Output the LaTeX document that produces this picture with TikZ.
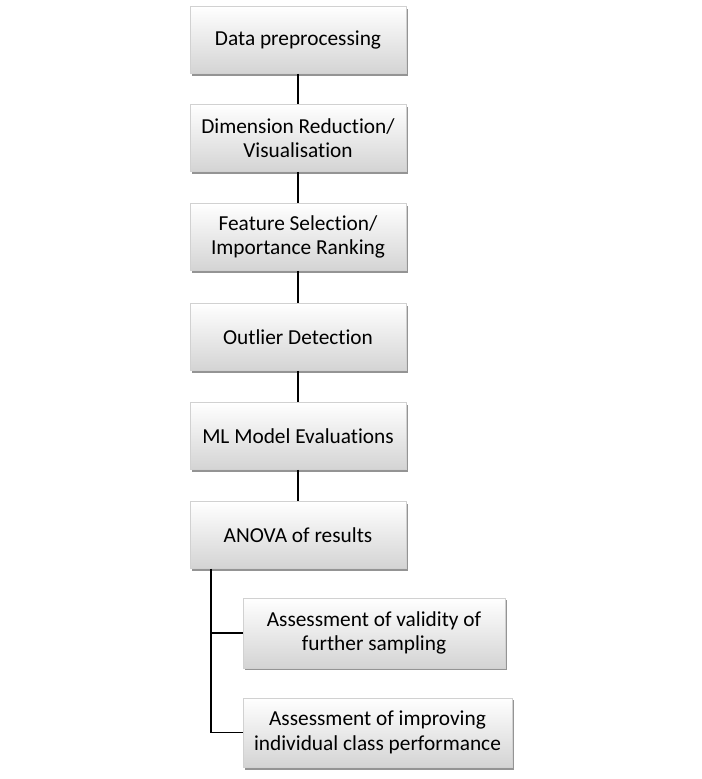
\documentclass[tikz,border=0pt]{standalone}
\usepackage{fontspec}
\setmainfont{Carlito}[Ligatures={NoCommon}]
\usetikzlibrary{shadows}
\begin{document}
\begin{tikzpicture}[x=0.75pt,y=-0.75pt,
  box/.style={rectangle, inner sep=0pt, align=center, font=\fontsize{16}{18.5}\selectfont,
    top color=white, bottom color=black!17, draw=black!18, line width=0.3pt,
    drop shadow={shadow xshift=1.2pt, shadow yshift=-1.8pt, opacity=0.6, fill=black!70},
    minimum width=162pt, minimum height=50.5pt},
  conn/.style={line width=1.1pt, black}]
\useasboundingbox (0,0) rectangle (702,779);
\node[box] (a) at (298,40) {Data preprocessing};
\node[box] (b) at (298,138) {Dimension Reduction/\\Visualisation};
\node[box] (c) at (298,237) {Feature Selection/\\Importance Ranking};
\node[box] (d) at (298,337) {Outlier Detection};
\node[box] (e) at (298,436) {ML Model Evaluations};
\node[box] (f) at (298,535) {ANOVA of results};
\node[box, minimum width=196.5pt, minimum height=52.5pt] (g) at (374,633) {Assessment of validity of\\further sampling};
\node[box, minimum width=201.75pt, minimum height=52pt] (h) at (377.5,732.5) {Assessment of improving\\individual class performance};
\coordinate (br) at (211,733);
\draw[conn] (a) -- (b);
\draw[conn] (b) -- (c);
\draw[conn] (c) -- (d);
\draw[conn] (d) -- (e);
\draw[conn] (e) -- (f);
\draw[conn] (f.south -| br) |- (g.west);
\draw[conn] (f.south -| br) |- (h.west);
\end{tikzpicture}
\end{document}
